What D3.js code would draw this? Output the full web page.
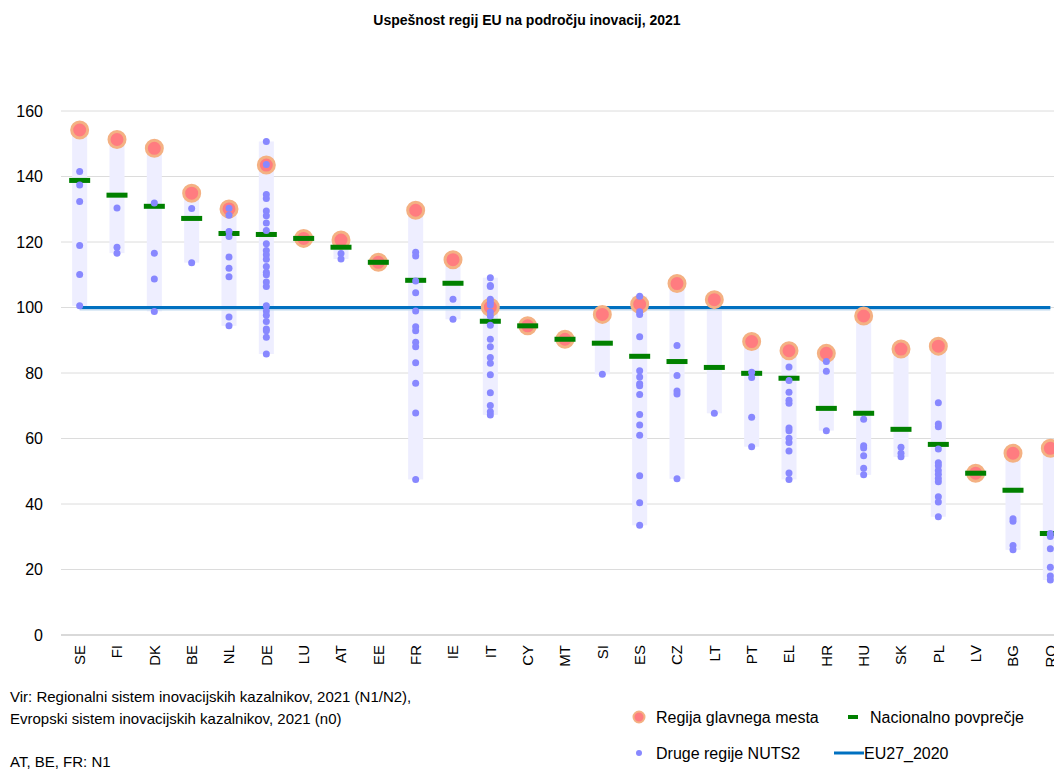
<!DOCTYPE html>
<html>
<head>
<meta charset="utf-8">
<script src="https://cdn.jsdelivr.net/npm/d3@7"></script>
<style>
  body { margin: 0; background: #fff; }
  svg { display: block; font-family: "Liberation Sans", Arial, sans-serif; }
</style>
</head>
<body>
<svg id="chart" width="1054" height="769"></svg>
<script>
// countries, ordered as in the source
const countries = ["SE","FI","DK","BE","NL","DE","LU","AT","EE","FR","IE","IT","CY","MT",
  "SI","ES","CZ","LT","PT","EL","HR","HU","SK","PL","LV","BG","RO"];

// capital-city region
const capital = [154.2, 151.3, 148.6, 134.9, 130.1, 143.5, 121.1, 120.6, 113.8, 129.7, 114.6,
  100.1, 94.4, 90.3, 97.9, 101.0, 107.3, 102.4, 89.6, 86.8, 86.0, 97.4, 87.3, 88.2, 49.4, 55.5, 57.0];

// national average
const national = [138.8, 134.3, 130.9, 127.2, 122.6, 122.3, 121.1, 118.4, 113.8, 108.3, 107.4,
  95.8, 94.4, 90.3, 89.1, 85.1, 83.5, 81.7, 79.9, 78.4, 69.2, 67.7, 62.8, 58.2, 49.4, 44.2, 31.0];

// other NUTS2 regions
const others = [
  [141.5, 137.4, 132.4, 118.9, 110.1, 100.5],
  [130.4, 118.4, 116.6],
  [131.9, 116.6, 108.7, 98.8],
  [130.2, 113.7],
  [130.3, 128.2, 123.2, 121.7, 115.4, 112.0, 109.4, 97.1, 94.4],
  [150.7, 143.7, 134.5, 133.3, 129.5, 128.0, 125.8, 123.5, 119.5, 117.4, 116.1, 114.7, 112.5,
   110.8, 110.0, 107.8, 106.4, 100.5, 98.9, 97.6, 95.7, 93.4, 92.9, 90.9, 85.8],
  [],
  [116.5, 114.8],
  [],
  [116.9, 115.7, 108.1, 104.5, 98.9, 94.1, 92.9, 89.4, 88.0, 83.1, 76.9, 67.8, 47.5],
  [102.5, 96.4],
  [109.1, 106.7, 106.4, 102.5, 101.6, 100.8, 98.6, 97.4, 94.6, 90.3, 88.0, 84.7, 83.0,
   79.5, 74.0, 70.1, 68.2, 67.2],
  [],
  [],
  [79.6],
  [103.4, 98.7, 97.9, 91.1, 80.7, 78.8, 76.7, 76.1, 73.4, 67.3, 64.1, 61.0, 48.6, 40.4, 33.5],
  [88.4, 79.2, 74.5, 73.6, 47.7],
  [67.7],
  [80.2, 78.6, 66.5, 57.5],
  [81.8, 77.7, 74.1, 71.7, 70.8, 63.2, 62.4, 60.1, 58.8, 56.2, 49.5, 47.5],
  [83.5, 80.5, 62.4],
  [65.9, 57.8, 57.1, 54.7, 50.9, 48.9],
  [57.3, 55.5, 54.4],
  [70.9, 64.4, 63.6, 56.8, 52.6, 51.7, 50.2, 49.1, 47.8, 46.8, 42.2, 40.6, 36.1],
  [],
  [35.5, 34.7, 27.3, 26.0],
  [31.0, 30.1, 26.3, 20.7, 18.0, 16.8]
];

const euLevel = 100;
const yTicks = [0, 20, 40, 60, 80, 100, 120, 140, 160];

const svg = d3.select("#chart");

const x = d3.scaleBand().domain(countries).range([61, 1069]).padding(0);
const y = d3.scaleLinear().domain([0, 160]).range([635, 111]);
const cx = c => x(c) + x.bandwidth() / 2;

// title
svg.append("text")
  .attr("x", 527).attr("y", 25)
  .attr("text-anchor", "middle")
  .style("font-family", "Liberation Sans, Arial, sans-serif")
  .style("font-weight", "bold")
  .style("font-size", "14px")
  .text("Uspešnost regij EU na področju inovacij, 2021");

// gridlines
svg.append("g")
  .selectAll("line")
  .data(yTicks.filter(d => d > 0))
  .join("line")
  .attr("x1", 61).attr("x2", 1054)
  .attr("y1", d => y(d)).attr("y2", d => y(d))
  .attr("stroke", "#dcdcdc")
  .attr("stroke-width", 1);

svg.append("line")
  .attr("x1", 61).attr("x2", 1054)
  .attr("y1", y(0)).attr("y2", y(0))
  .attr("stroke", "#d9d9d9")
  .attr("stroke-width", 2);

// y axis labels
const yAxis = d3.axisLeft(y).tickValues(yTicks).tickSize(0).tickPadding(18);
svg.append("g")
  .attr("transform", "translate(61,0)")
  .call(yAxis)
  .call(g => g.select(".domain").remove())
  .selectAll("text")
  .style("font-family", "Liberation Sans, Arial, sans-serif")
  .style("font-size", "16px")
  .attr("fill", "#000");

// x axis labels
const xAxis = d3.axisBottom(x).tickSize(0).tickPadding(0);
svg.append("g")
  .attr("transform", `translate(0,${y(0)})`)
  .call(xAxis)
  .call(g => g.select(".domain").remove())
  .selectAll("text")
  .style("font-family", "Liberation Sans, Arial, sans-serif")
  .style("font-size", "15px")
  .attr("fill", "#000")
  .attr("text-anchor", "end")
  .attr("dy", "0.35em")
  .attr("transform", "translate(0,10) rotate(-90)")
  .attr("x", 0).attr("y", 0);

// range bands (min..max of all regions)
const ranges = countries.map((c, i) => {
  const all = [capital[i], ...others[i]];
  return { c, lo: d3.min(all), hi: d3.max(all), n: all.length };
}).filter(d => d.n > 1);

svg.append("g")
  .selectAll("rect")
  .data(ranges)
  .join("rect")
  .attr("x", d => cx(d.c) - 7.5)
  .attr("width", 15)
  .attr("y", d => y(d.hi))
  .attr("height", d => y(d.lo) - y(d.hi))
  .attr("fill", "#eeeeff");

// EU27 line
const euLine = d3.line().x(c => cx(c)).y(() => y(euLevel));
svg.append("path")
  .attr("d", euLine(countries))
  .attr("transform", "translate(0,1)")
  .attr("fill", "none")
  .attr("stroke", "#bdd7ee")
  .attr("stroke-width", 4);
svg.append("path")
  .attr("d", euLine(countries))
  .attr("fill", "none")
  .attr("stroke", "#0070c0")
  .attr("stroke-width", 3);

// capital regions
svg.append("g")
  .selectAll("circle")
  .data(countries)
  .join("circle")
  .attr("cx", c => cx(c))
  .attr("cy", (c, i) => y(capital[i]))
  .attr("r", 8)
  .attr("fill", "#ff7c80")
  .attr("stroke", "#f4b183")
  .attr("stroke-width", 3);

// national averages
svg.append("g")
  .selectAll("rect")
  .data(countries)
  .join("rect")
  .attr("x", c => cx(c) - 10.5)
  .attr("width", 21)
  .attr("y", (c, i) => y(national[i]) - 2.5)
  .attr("height", 5)
  .attr("fill", "#008000");

// other regions
const otherPts = countries.flatMap((c, i) => others[i].map(v => ({ c, v })));
svg.append("g")
  .selectAll("circle")
  .data(otherPts)
  .join("circle")
  .attr("cx", d => cx(d.c))
  .attr("cy", d => y(d.v))
  .attr("r", 3.5)
  .attr("fill", "#8888ff");

// footer notes
const notes = svg.append("g")
  .style("font-family", "Liberation Sans, Arial, sans-serif")
  .style("font-size", "15px");
notes.append("text").attr("x", 10).attr("y", 702)
  .text("Vir: Regionalni sistem inovacijskih kazalnikov, 2021 (N1/N2),");
notes.append("text").attr("x", 10).attr("y", 724)
  .text("Evropski sistem inovacijskih kazalnikov, 2021 (n0)");
notes.append("text").attr("x", 10).attr("y", 767)
  .text("AT, BE, FR: N1");

// legend
const lg = svg.append("g")
  .style("font-family", "Liberation Sans, Arial, sans-serif")
  .style("font-size", "16px");
lg.append("circle").attr("cx", 639).attr("cy", 717).attr("r", 5.5)
  .attr("fill", "#ff7c80").attr("stroke", "#f4b183").attr("stroke-width", 2);
lg.append("text").attr("x", 656).attr("y", 723).text("Regija glavnega mesta");
lg.append("rect").attr("x", 848).attr("y", 715).attr("width", 10).attr("height", 4)
  .attr("fill", "#008000");
lg.append("text").attr("x", 870).attr("y", 723).text("Nacionalno povprečje");
lg.append("circle").attr("cx", 639).attr("cy", 753).attr("r", 3)
  .attr("fill", "#8888ff");
lg.append("text").attr("x", 656).attr("y", 759).text("Druge regije NUTS2");
lg.append("line").attr("x1", 834).attr("x2", 864).attr("y1", 753).attr("y2", 753)
  .attr("stroke", "#0070c0").attr("stroke-width", 3);
lg.append("text").attr("x", 864).attr("y", 759).text("EU27_2020");
</script>
</body>
</html>
